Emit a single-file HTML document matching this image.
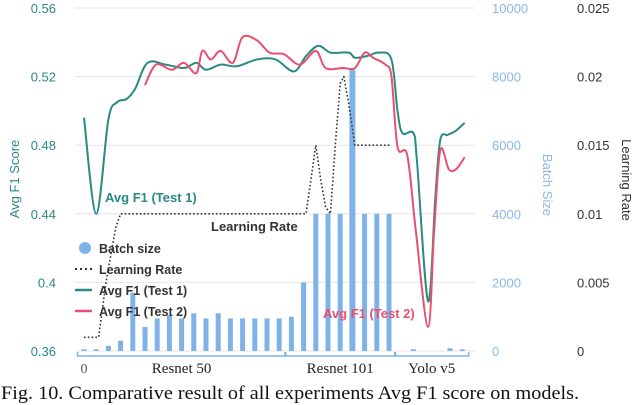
<!DOCTYPE html>
<html><head><meta charset="utf-8"><style>
html,body{margin:0;padding:0;background:#fff;}
svg{display:block;font-family:"Liberation Sans",sans-serif;}
</style></head><body>
<svg id="chart" width="640" height="405" viewBox="0 0 640 405" xmlns="http://www.w3.org/2000/svg"></svg>
<script>
const batchSizes=[50,50,150,300,1700,700,950,1050,950,1100,950,1100,950,950,950,950,950,1000,2000,4000,4000,4000,8200,4000,4000,4000,0,50,0,0,80,50];
const f1Tick=[0.36,0.4,0.44,0.48,0.52,0.56];
const batchTick=[0,2000,4000,6000,8000,10000];
const lrTick=[0,0.005,0.01,0.015,0.02,0.025];
const test1X=[0,1,2,2.7,3.5,4.2,5.2,6.7,8.2,9.2,10,11.2,12.5,14.2,15.7,17.2,18.2,19.2,20.2,21.7,22.2,23.2,24.2,25.2,25.7,26.1,27,27.3,28.2,28.8,29.2,29.8,30.4,31.2];
const test1Y=[0.496,0.440,0.495,0.505,0.507,0.513,0.528,0.527,0.525,0.528,0.524,0.527,0.526,0.530,0.530,0.523,0.532,0.538,0.534,0.534,0.531,0.532,0.534,0.530,0.500,0.487,0.487,0.470,0.389,0.450,0.483,0.486,0.488,0.493];
const test2X=[5,5.9,7.2,8.2,9.2,9.7,10.4,11.2,12.2,13,14.2,15.2,16.4,17.7,19,19.8,21.2,22.2,23,23.7,24.7,25.2,25.7,26.5,27.2,28.2,28.7,29.2,29.9,30.5,31.2];
const test2Y=[0.515,0.527,0.524,0.528,0.522,0.535,0.530,0.535,0.528,0.543,0.541,0.534,0.533,0.527,0.535,0.525,0.525,0.525,0.534,0.531,0.527,0.520,0.479,0.474,0.430,0.374,0.430,0.477,0.466,0.466,0.473];
const lrX=[0,1.2,1.5,1.8,2.2,2.6,3,18.2,18.6,19,19.4,19.8,20.2,20.6,21,21.3,21.7,22.2,25.2];
const lrY=[0.001,0.001,0.003,0.005,0.007,0.009,0.01,0.01,0.0125,0.015,0.0125,0.0105,0.01,0.015,0.0195,0.02,0.018,0.015,0.015];
const groups=["Resnet 50","Resnet 101","Yolo v5"];
const groupStart=[0,17,26];
const groupEnd=[16,25,31];

const svg=document.getElementById('chart');
const NS='http://www.w3.org/2000/svg';
const xS=i=>84+12.2*i;
const yF=v=>351-(v-0.36)/0.2*343;
const yB=v=>351-v/10000*343;
const yL=v=>351-v/0.025*343;
function mk(tag,at,parent){const e=document.createElementNS(NS,tag);for(const k in at)e.setAttribute(k,at[k]);(parent||svg).appendChild(e);return e;}
function txt(s,at){const e=mk('text',at);e.textContent=s;return e;}
function smooth(xs,ys,fy){const p=xs.map((x,i)=>[xS(x),fy(ys[i])]);let d='M'+p[0][0]+','+p[0][1];for(let i=0;i<p.length-1;i++){const p0=p[i-1]||p[i],p1=p[i],p2=p[i+1],p3=p[i+2]||p2;const c1=[p1[0]+(p2[0]-p0[0])/6,p1[1]+(p2[1]-p0[1])/6],c2=[p2[0]-(p3[0]-p1[0])/6,p2[1]-(p3[1]-p1[1])/6];d+=` C${c1[0]},${c1[1]} ${c2[0]},${c2[1]} ${p2[0]},${p2[1]}`;}return d;}
function linear(xs,ys,fy){return xs.map((x,i)=>(i?'L':'M')+xS(x)+','+fy(ys[i])).join(' ');}

f1Tick.forEach((v,i)=>{
  const g=mk('line',{x1:75,x2:475,y1:yF(v),y2:yF(v),stroke:'#e6e6e6','stroke-width':1});
  
  
  const t=txt(String(v),{x:56,y:yF(v)+5,'text-anchor':'end','font-size':13,fill:'#2a8a84'});
  
  
});
batchTick.forEach(v=>{
  const t=txt(String(v),{x:492,y:yB(v)+5,'font-size':13,fill:'#8ab8e8'});
  
  
});
lrTick.forEach(v=>{
  const t=txt(String(v),{x:577,y:yL(v)+5,'font-size':13,fill:'#333'});
  
  
});
let at=txt('Avg F1 Score',{x:0,y:0,'font-size':13,fill:'#2a8a84','text-anchor':'middle',transform:'translate(19,179) rotate(-90)'});

at=txt('Batch Size',{x:0,y:0,'font-size':13,fill:'#8ab8e8','text-anchor':'middle',transform:'translate(543,185) rotate(90)'});

at=txt('Learning Rate',{x:0,y:0,'font-size':13,fill:'#333','text-anchor':'middle',transform:'translate(622,180) rotate(90)'});


batchSizes.forEach((v,i)=>{
  if(v<=0)return;
  const w=i===22?6:5;
  const b=mk('rect',{x:xS(i)-w/2,y:yB(v),width:w,height:351-yB(v),fill:'#7fb3e8'});
  
  
});
let l=mk('path',{d:linear(lrX,lrY,yL),fill:'none',stroke:'#333','stroke-width':1.6,'stroke-dasharray':'1.6 2.2','stroke-linejoin':'round'});

l=mk('path',{d:smooth(test1X,test1Y,yF),fill:'none',stroke:'#2a8a84','stroke-width':2});

l=mk('path',{d:smooth(test2X,test2Y,yF),fill:'none',stroke:'#e8506e','stroke-width':2});


at=txt('Avg F1 (Test 1)',{x:105,y:202,'font-size':13,'font-weight':'bold',fill:'#2a8a84'});

at=txt('Learning Rate',{x:211,y:231,'font-size':13,'font-weight':'bold',fill:'#333'});

at=txt('Avg F1 (Test 2)',{x:323,y:318,'font-size':13,'font-weight':'bold',fill:'#e8506e'});


const lg=mk('g',{});

const legNames=['Batch size','Learning Rate','Avg F1 (Test 1)','Avg F1 (Test 2)'];
legNames.forEach((n,i)=>{
  const y=248+i*21;
  if(i===0){mk('circle',{cx:85,cy:y,r:6,fill:'#7fb3e8'},lg);}
  else{mk('line',{x1:75,x2:92,y1:y,y2:y,stroke:['','#333','#2a8a84','#e8506e'][i],'stroke-width':i===1?2:2.5,'stroke-dasharray':i===1?'2 3':'none'},lg);}
  const t=mk('text',{x:99,y:y+5,'font-size':12.5,'font-weight':'bold',fill:'#333'},lg);t.textContent=n;
  
  
});

groups.forEach((g,i)=>{
  const x1=xS(groupStart[i])-6.5,x2=xS(groupEnd[i])+6.5;
  const p=mk('path',{d:`M${x1},352 L${x1},356 L${x2},356 L${x2},352`,fill:'none',stroke:'#7fb3e8','stroke-width':1.5});
  
  const t=txt(g,{x:(x1+x2)/2,y:373,'text-anchor':'middle','font-size':15,fill:'#222','font-family':'"Liberation Serif",serif'});
  
});
at=txt('0',{x:84,y:373,'text-anchor':'middle','font-size':14,fill:'#555','font-family':'"Liberation Serif",serif'});

at=txt('Fig. 10. Comparative result of all experiments Avg F1 score on models.',{x:1,y:399,'font-size':19,fill:'#111','font-family':'"Liberation Serif",serif',textLength:578,lengthAdjust:'spacingAndGlyphs'});

</script>
</body></html>
